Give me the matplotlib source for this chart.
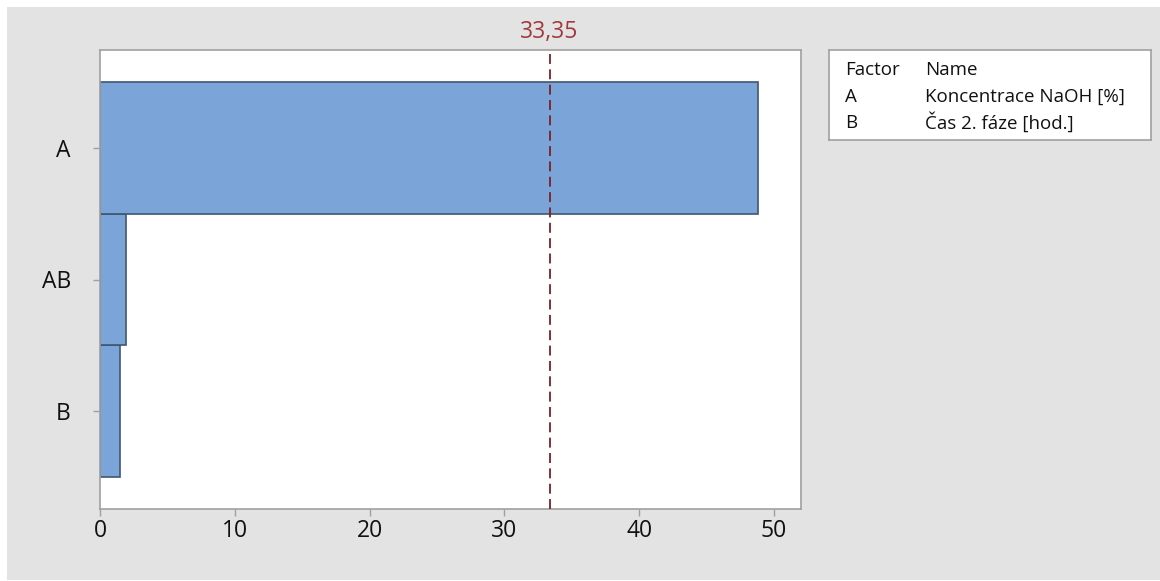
import matplotlib.pyplot as plt
from matplotlib.patches import Rectangle

# standardized effects, largest on top
terms = ['B', 'AB', 'A']
effects = [1.48, 1.95, 48.8]
critical = 33.35

factors = ['A', 'B']
factor_names = ['Koncentrace NaOH [%]', 'Čas 2. fáze [hod.]']

plt.rcParams['font.family'] = ['Open Sans', 'DejaVu Sans']

fig = plt.figure(figsize=(11.6, 5.81), dpi=100, facecolor='white')
fig.patches.append(Rectangle((7 / 1160, 1 / 581), 1 - 7 / 1160, 1 - 8 / 581,
                             transform=fig.transFigure, facecolor='#e3e3e3',
                             edgecolor='none', zorder=-10))

ax = fig.add_axes([100 / 1160, 72 / 581, 701 / 1160, 459 / 581])
ax.set_facecolor('white')

ax.barh(range(len(terms)), effects, height=1.0, color='#7ba5d8',
        edgecolor='#3f5670', linewidth=1.2, zorder=2)
ax.axvline(critical, color='#7a2024', linestyle=(0, (5.5, 3)), linewidth=1.3, zorder=3)
ax.text(critical, 1.014, f'{critical:.2f}'.replace('.', ','), transform=ax.get_xaxis_transform(),
        ha='center', va='bottom', color='#a0393c', fontsize=16.5)

ax.set_xlim(0, 52)
ax.set_ylim(-0.74, 2.74)
ax.set_yticks(range(len(terms)))
ax.set_yticklabels(terms)
ax.set_xticks([0, 10, 20, 30, 40, 50])

for side in ['top', 'right', 'bottom', 'left']:
    ax.spines[side].set_color('#a0a0a0')
    ax.spines[side].set_linewidth(1.2)
ax.tick_params(axis='both', colors='#a0a0a0', labelcolor='#111111', labelsize=16.5,
               length=5, width=1)
ax.tick_params(axis='y', pad=16)
ax.tick_params(axis='x', pad=2)

# factor / name table
leg = fig.add_axes([829 / 1160, 441 / 581, 322 / 1160, 90 / 581])
leg.set_xticks([])
leg.set_yticks([])
leg.set_xlim(0, 322)
leg.set_ylim(90, 0)
for side in leg.spines.values():
    side.set_color('#a0a0a0')
    side.set_linewidth(1.2)
leg.text(16, 20, 'Factor', fontsize=13.5, va='center', color='#111111')
leg.text(96, 20, 'Name', fontsize=13.5, va='center', color='#111111')
for i, (f, n) in enumerate(zip(factors, factor_names)):
    leg.text(16, 47 + 25.5 * i, f, fontsize=13.5, va='center', color='#111111')
    leg.text(96, 47 + 25.5 * i, n, fontsize=13.5, va='center', color='#111111')

fig.savefig('out.png', dpi=100, facecolor=fig.get_facecolor())
